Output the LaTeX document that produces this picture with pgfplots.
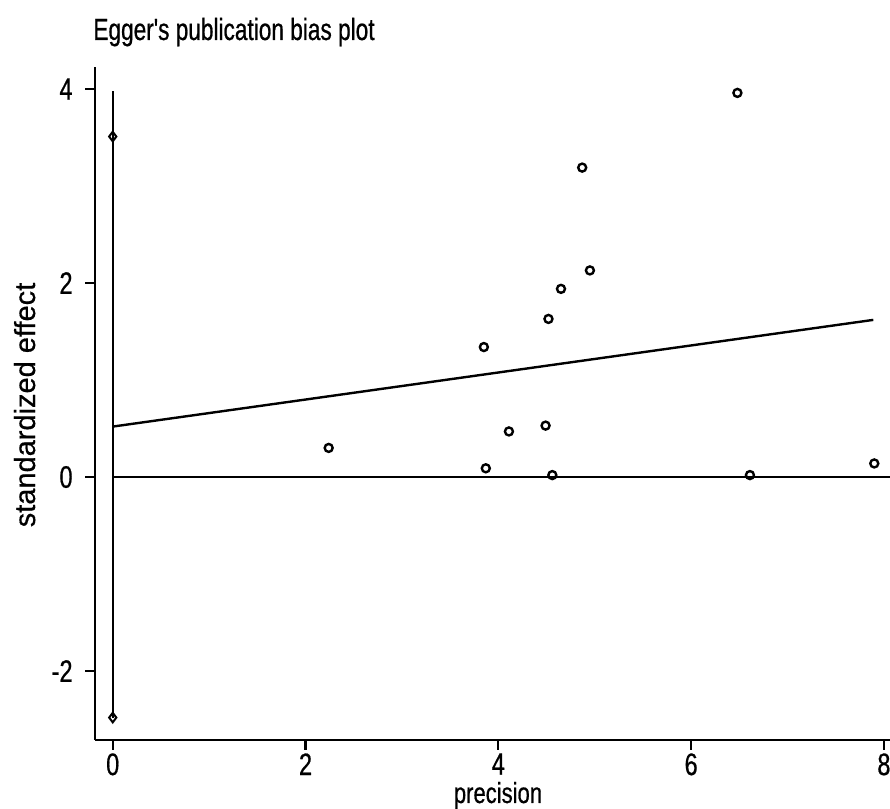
\documentclass[border=0pt]{standalone}
\usepackage{pgfplots}
\pgfplotsset{compat=1.18}
\usepackage{pgfplotstable}
\usepackage{fontspec}
\setmainfont{Liberation Sans}
\newfontfamily\narrow[FakeStretch=0.76,FakeBold=0.6]{Liberation Sans}
\newfontfamily\titlefont[FakeStretch=0.74,FakeBold=0.7]{Liberation Sans}
\newfontfamily\ylab[FakeBold=0.5]{Liberation Sans}

\pgfplotstableread{
x y
2.24 0.30
3.85 1.34
3.87 0.09
4.11 0.47
4.49 0.53
4.52 1.63
4.56 0.02
4.65 1.94
4.87 3.19
4.95 2.13
6.48 3.96
6.61 0.02
7.90 0.14
}\studies

\pgfplotstableread{
x y
0 -2.48
0 3.51
}\cilimits

\pgfplotstableread{
x y
0 0.52
7.89 1.62
}\regline

\begin{document}
\begin{tikzpicture}[x=1pt,y=1pt]
\path[use as bounding box] (0,0) rectangle (445,404.5);
\begin{axis}[
  at={(47.5pt,34.5pt)}, anchor=south west,
  scale only axis, width=397.5pt, height=336.5pt,
  xmin=-0.184, xmax=8.063, ymin=-2.711, ymax=4.227,
  axis x line*=bottom, axis y line*=left,
  axis line style={-, line width=1.1pt, black},
  tick align=outside,
  major tick length=5pt,
  every tick/.style={black, line width=1.1pt},
  xtick={0,2,4,6,8}, xticklabels={0,2,4,6,8},
  ytick={-2,0,2,4}, yticklabels={-2,0,2,4},
  ticklabel style={font=\narrow\fontsize{15.5}{15.5}\selectfont, inner sep=0pt},
  xticklabel style={anchor=north},
  yticklabel style={anchor=east},
  xticklabel shift=1.5pt,
  yticklabel shift=6pt,
  clip=false,
]
\addplot[black, line width=1.1pt, no marks] coordinates {(0,-2.48) (0,3.98)};
\addplot[black, line width=1.4pt, no marks] coordinates {(0,0) (8.063,0)};
\addplot[black, line width=1.2pt, no marks] table {\regline};
\addplot[only marks, mark=diamond, mark size=2.4pt, mark options={black, line width=1pt, fill=white}] table {\cilimits};
\addplot[only marks, mark=o, mark size=2pt, mark options={black, line width=1.2pt, fill=white}] table {\studies};
\end{axis}
\node[anchor=base west, inner sep=0pt, font=\titlefont\fontsize{15.3}{15.3}\selectfont] at (46.5,384.5) {Egger's publication bias plot};
\node[anchor=base, inner sep=0pt, font=\narrow\fontsize{14.5}{14.5}\selectfont] at (249,3) {precision};
\node[anchor=base, rotate=90, inner sep=0pt, font=\ylab\fontsize{14.5}{14.5}\selectfont] at (17.5,202) {standardized effect};
\end{tikzpicture}
\end{document}
